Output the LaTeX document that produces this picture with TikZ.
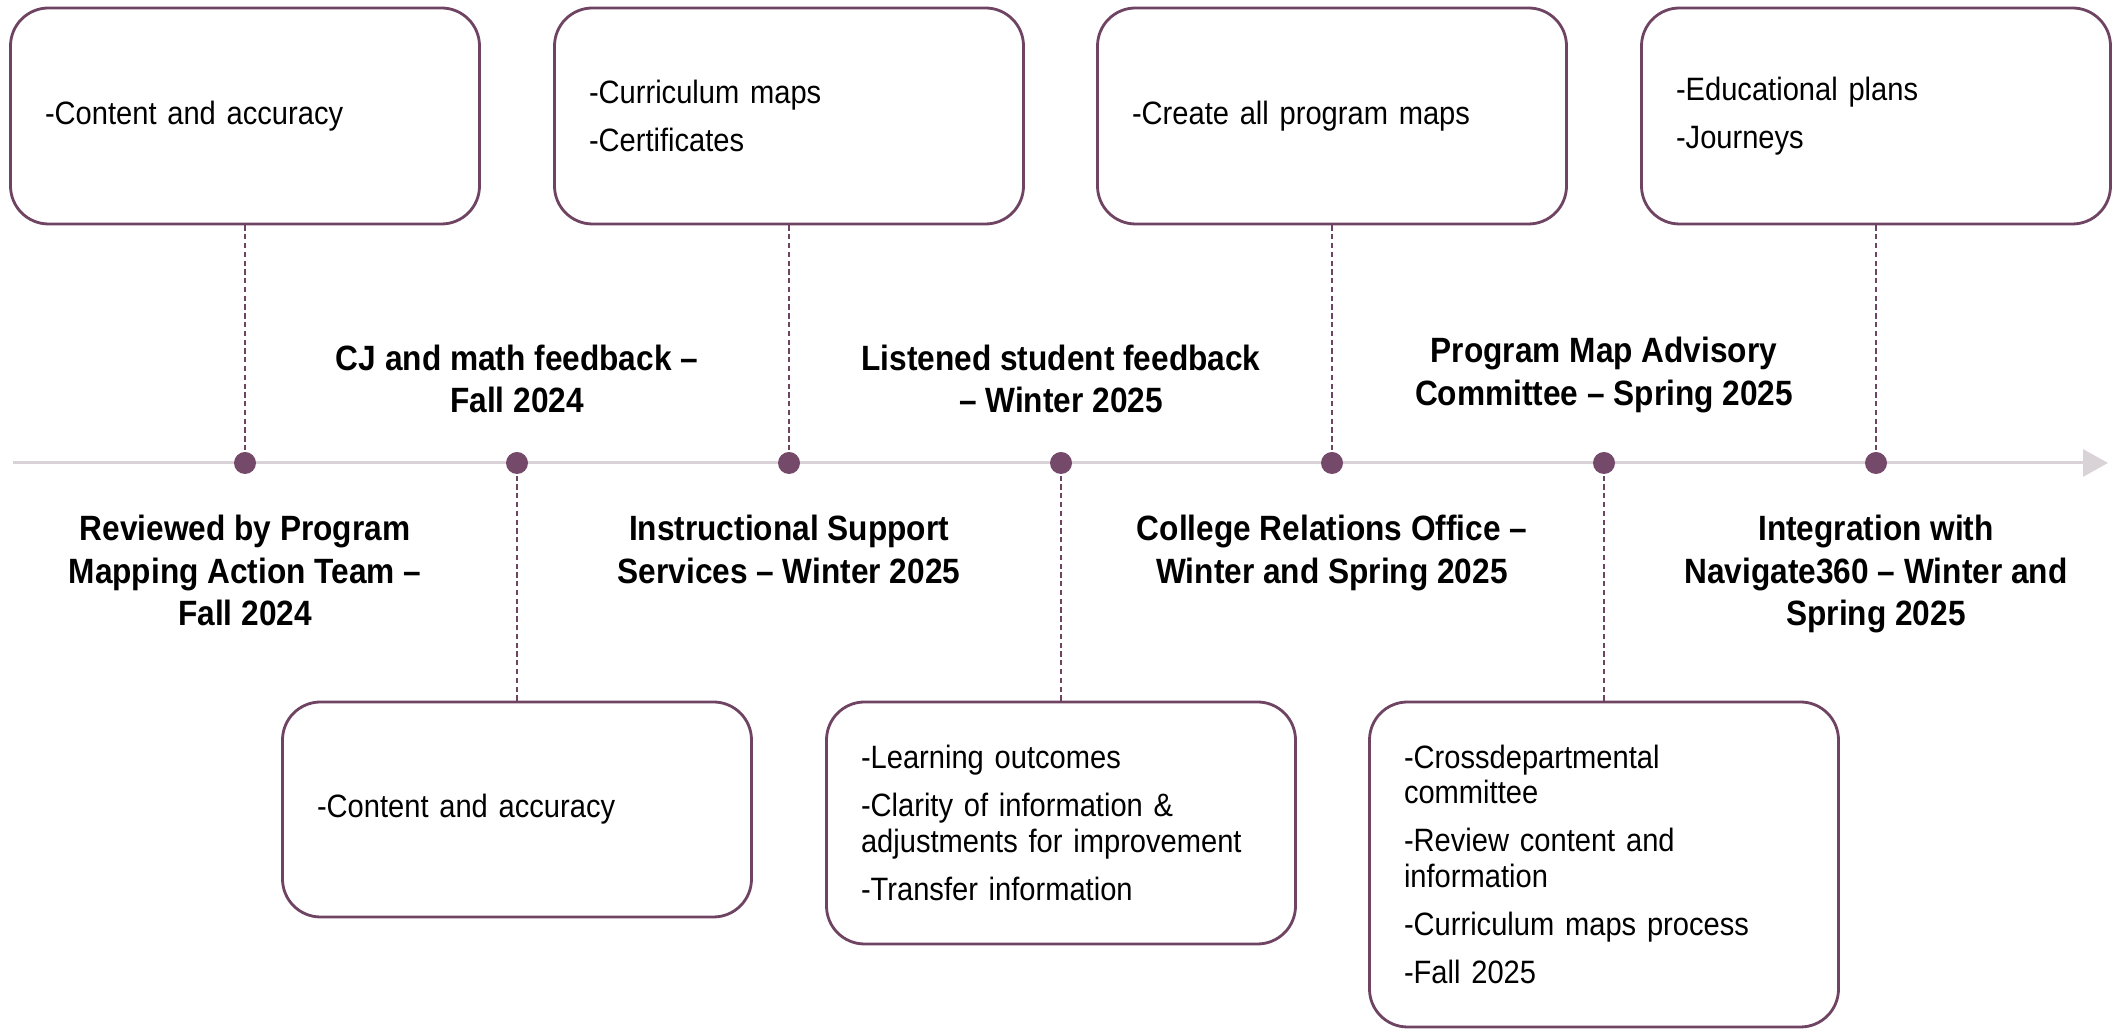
\documentclass[tikz,border=0pt]{standalone}
\usepackage{fontspec}
\setmainfont[FakeStretch=0.9]{Liberation Sans}
\usetikzlibrary{arrows.meta, positioning}
\definecolor{plum}{HTML}{6E4462}
\definecolor{dotplum}{HTML}{74496A}
\definecolor{linegray}{HTML}{D9D3D8}

\begin{document}
\begin{tikzpicture}[
  note/.style={draw=plum, line width=0.8pt, rounded corners=0.38cm, text width=4cm, inner xsep=0.345cm, align=left, font=\fontsize{9.2}{10}\selectfont},
  milestone/.style={circle, fill=dotplum, inner sep=0pt, minimum size=0.22cm},
  event/.style={font=\fontsize{10}{12}\selectfont\bfseries, align=center, inner sep=0pt},
  link/.style={plum, line width=0.5pt, dash pattern=on 1.5pt off 1pt},
  timeline/.style={-{Triangle[length=0.25cm, width=0.27cm]}, linegray, line width=0.85pt},
]
  \useasboundingbox (0,0) rectangle (21.12,-10.29);

  % Timeline
  \coordinate (start) at (0.13,-4.63);
  \coordinate (end) at (21.08,-4.63);
  \draw[timeline] (start) -- (end);

  % Milestones
  \node[milestone] (d1) at (2.45,-4.63) {};
  \node[milestone] (d2) at (5.17,-4.63) {};
  \node[milestone] (d3) at (7.89,-4.63) {};
  \node[milestone] (d4) at (10.61,-4.63) {};
  \node[milestone] (d5) at (13.32,-4.63) {};
  \node[milestone] (d6) at (16.04,-4.63) {};
  \node[milestone] (d7) at (18.76,-4.63) {};

  % Top boxes
  \node[note, minimum height=2.16cm] (top1) at (2.45,-1.16) {-Content and accuracy};
  \node[note, minimum height=2.16cm] (top2) at (7.89,-1.16) {-Curriculum maps\\[3.7pt]-Certificates};
  \node[note, minimum height=2.16cm] (top3) at (13.32,-1.16) {-Create all program maps};
  \node[note, minimum height=2.16cm] (top4) at (18.76,-1.16) {-Educational plans\\[3.7pt]-Journeys};

  % Bottom boxes
  \node[note, minimum height=2.15cm] (bot1) at (5.17,-8.095) {-Content and accuracy};
  \node[note, minimum height=2.42cm] (bot2) at (10.61,-8.23) {-Learning outcomes\\[3.7pt]-Clarity of information \&\\adjustments for improvement\\[3.7pt]-Transfer information};
  \node[note, minimum height=3.25cm] (bot3) at (16.04,-8.645) {-Crossdepartmental\\committee\\[3.7pt]-Review content and\\information\\[3.7pt]-Curriculum maps process\\[3.7pt]-Fall 2025};

  % Dashed links
  \draw[link] (top1.south) -- (d1);
  \draw[link] (top2.south) -- (d3);
  \draw[link] (top3.south) -- (d5);
  \draw[link] (top4.south) -- (d7);
  \draw[link] (bot1.north) -- (d2);
  \draw[link] (bot2.north) -- (d4);
  \draw[link] (bot3.north) -- (d6);

  % Labels
  \node[event, below=0.4cm of d1] (lab1) {Reviewed by Program\\Mapping Action Team –\\Fall 2024};
  \node[event, above=0.38cm of d2] (lab2) {CJ and math feedback –\\Fall 2024};
  \node[event, below=0.4cm of d3] (lab3) {Instructional Support\\Services – Winter 2025};
  \node[event, above=0.38cm of d4] (lab4) {Listened student feedback\\– Winter 2025};
  \node[event, below=0.4cm of d5] (lab5) {College Relations Office –\\Winter and Spring 2025};
  \node[event, above=0.38cm of d6] (lab6) {Program Map Advisory\\Committee – Spring 2025};
  \node[event, below=0.4cm of d7] (lab7) {Integration with\\Navigate360 – Winter and\\Spring 2025};
\end{tikzpicture}
\end{document}
